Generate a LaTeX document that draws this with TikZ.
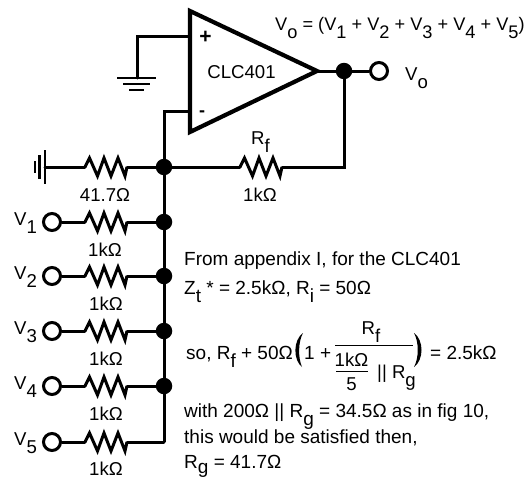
\documentclass[tikz,border=0pt]{standalone}
\usepackage{fontspec}
\setmainfont{Liberation Sans}
\newcommand{\sbs}[1]{\raisebox{-8.5pt}{#1}}
\newcommand{\sbt}[1]{\raisebox{-5.5pt}{#1}}
\newcommand{\Oh}{Ω}
\tikzset{
  wire/.style={line width=3pt,line cap=round,line join=miter},
  heavy/.style={line width=4.2pt,line join=miter},
  dotn/.style={circle,fill=black,inner sep=0pt,minimum size=16.5pt},
  term/.style={circle,draw=black,fill=white,line width=3pt,inner sep=0pt,minimum size=17pt},
  lab/.style={anchor=base,inner sep=0pt,font=\fontsize{18.6}{22}\selectfont},
  labw/.style={lab,anchor=base west},
  txt/.style={labw,font=\fontsize{19}{22}\selectfont}
}
% resistor: name, x of left end, y
\newcommand{\resi}[3]{%
  \coordinate (#1-l) at (#2,#3);
  \coordinate (#1-r) at (#2+42,#3);
  \draw[line width=3pt,line join=miter] (#1-l) -- ++(4.5,-9) -- ++(8,18) -- ++(6.5,-18) -- ++(7,18) -- ++(7,-18) -- ++(7,18) -- (#1-r);
}
\begin{document}
\begin{tikzpicture}[x=1pt,y=-1pt]
\useasboundingbox (0,0) rectangle (529,479);
% op-amp
\coordinate (oa) at (190,11);
\coordinate (ob) at (190,132);
\coordinate (oc) at (317,71);
\coordinate (ip) at (190,36);
\coordinate (im) at (190,111);
\draw[heavy] (oa) -- (oc) -- (ob) -- cycle;
\node[lab] (amp) at (241.5,78) {CLC401};
\node[lab,font=\fontsize{21}{21}\selectfont\bfseries] (plus) at (205.5,43) {+};
\node[lab,font=\fontsize{18}{18}\selectfont\bfseries] (minus) at (202,116) {-};
% ground at + input
\coordinate (gp) at (137,78);
\draw[wire] (ip) -- (137,36) -- (gp);
\draw[line width=2.8pt] (117,78) -- (156,78);
\draw[line width=2.8pt] (123,84) -- (150,84);
\draw[line width=2.8pt] (129,90) -- (144,90);
% junctions
\node[dotn] (j0) at (164,167) {};
\node[dotn] (j1) at (164,222) {};
\node[dotn] (j2) at (164,276) {};
\node[dotn] (j3) at (164,331) {};
\node[dotn] (j4) at (164,386) {};
\coordinate (j5) at (164,442);
\node[dotn] (jo) at (344,71) {};
\draw[wire] (im) -- (164,111) -- (j0);
\draw[wire,line cap=butt] (j0.center) -- (j1.center) -- (j2.center) -- (j3.center) -- (j4.center) -- (j5);
% output
\node[term] (vo) at (379,71) {};
\draw[wire] (oc) -- (jo);
\draw[wire] (jo) -- (vo);
% Rf
\resi{rf}{240}{167}
\draw[wire] (j0) -- (rf-l);
\draw[wire] (rf-r) -- (344,167) -- (jo);
% Rg with ground
\resi{rg}{85}{167}
\coordinate (gl) at (45,167);
\draw[wire] (gl) -- (rg-l);
\draw[wire] (rg-r) -- (j0);
\draw[line width=2.8pt] (45,150) -- (45,184);
\draw[line width=2.8pt] (39.5,155) -- (39.5,179);
\draw[line width=2.8pt] (35,161) -- (35,173);
% inputs
\node[term] (t1) at (52,222) {};
\node[term] (t2) at (52,276) {};
\node[term] (t3) at (52,331) {};
\node[term] (t4) at (52,386) {};
\node[term] (t5) at (52,442) {};
\resi{r1}{85}{222}
\resi{r2}{85}{276}
\resi{r3}{85}{331}
\resi{r4}{85}{386}
\resi{r5}{85}{442}
\draw[wire] (t1) -- (r1-l); \draw[wire] (r1-r) -- (j1);
\draw[wire] (t2) -- (r2-l); \draw[wire] (r2-r) -- (j2);
\draw[wire] (t3) -- (r3-l); \draw[wire] (r3-r) -- (j3);
\draw[wire] (t4) -- (r4-l); \draw[wire] (r4-r) -- (j4);
\draw[wire] (t5) -- (r5-l); \draw[wire] (r5-r) -- (j5);
% labels
\node[lab] (l0) at (105,201) {41.7\Oh};
\node[lab] (l1) at (105,256) {1k\Oh};
\node[lab] (l2) at (106,310) {1k\Oh};
\node[lab] (l3) at (106,365) {1k\Oh};
\node[lab] (l4) at (106,420) {1k\Oh};
\node[lab] (l5) at (106,475) {1k\Oh};
\node[lab] (lf) at (260,201) {1k\Oh};
\node[labw] (nrf) at (251,144) {R\sbs{f}};
\node[labw] (v1) at (14,225) {V\sbs{1}};
\node[labw] (v2) at (14,279) {V\sbs{2}};
\node[labw] (v3) at (14,334) {V\sbs{3}};
\node[labw] (v4) at (14,389) {V\sbs{4}};
\node[labw] (v5) at (14,445) {V\sbs{5}};
\node[labw] (vol) at (405,80) {V\sbs{o}};
\node[labw,font=\fontsize{18.2}{22}\selectfont] (eq) at (275,30) {V\sbs{o} = (V\sbs{1} + V\sbs{2} + V\sbs{3} + V\sbs{4} + V\sbs{5})};
% text
\node[txt] (t-a) at (184,265) {From appendix I, for the CLC401};
\node[txt] (t-b) at (184,294) {Z\sbs{t} * = 2.5k\Oh, R\sbs{i} = 50\Oh};
\node[txt] (t-c) at (186,359) {so, R\sbs{f} + 50\Oh};
\node[txt] (t-d) at (304,359) {1 +};
\node[txt] (t-e) at (430,359) {= 2.5k\Oh};
\node[lab] (f-n) at (371,334) {R\sbs{f}};
\draw[line width=1pt] (335,345) -- (413,345);
\draw[line width=1pt] (336,371) -- (368,371);
\node[lab] (f-a) at (351.5,366) {1k\Oh};
\node[lab] (f-b) at (351.5,390) {5};
\node[labw] (f-c) at (377,378) {|| R\sbs{g}};
\fill (303,333) .. controls (293,340) and (293,360) .. (302,367) .. controls (298,358) and (298,342) .. (303,333) -- cycle;
\fill (414,333) .. controls (424,340) and (424,360) .. (414,367) .. controls (419,358) and (419,342) .. (414,333) -- cycle;
\node[txt] (t-f) at (184,417) {with 200\Oh{} || R\sbs{g} = 34.5\Oh{} as in fig 10,};
\node[txt] (t-g) at (184,443) {this would be satisfied then,};
\node[txt] (t-h) at (184,468) {R\sbt{g} = 41.7\Oh};
\end{tikzpicture}
\end{document}
